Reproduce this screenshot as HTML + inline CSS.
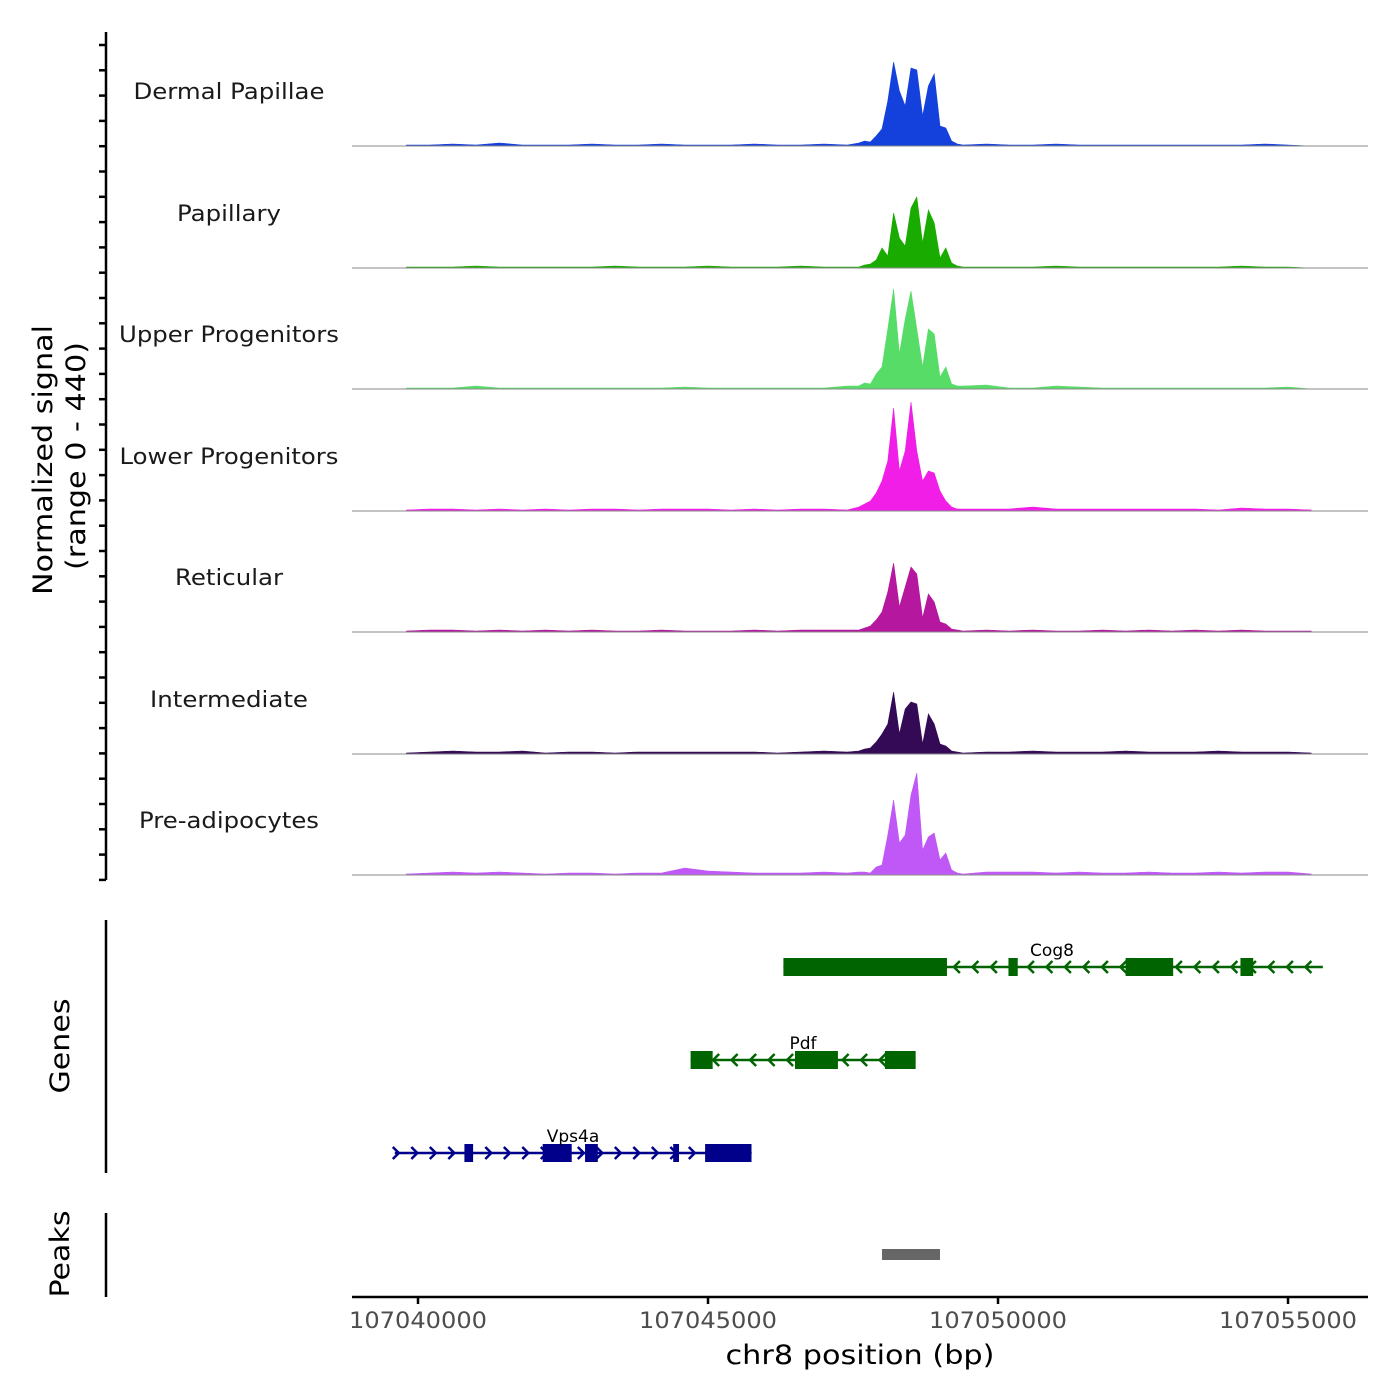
<!DOCTYPE html>
<html><head><meta charset="utf-8"><style>
body{margin:0;background:#fff}
svg{display:block;font-family:"DejaVu Sans","Liberation Sans",sans-serif}
</style></head><body>
<svg id="chart" width="1400" height="1400" viewBox="0 0 1400 1400" xmlns="http://www.w3.org/2000/svg">
<text transform="translate(52,460) rotate(-90)" text-anchor="middle" font-size="27" textLength="270" lengthAdjust="spacingAndGlyphs" fill="#000">Normalized signal</text>
<text transform="translate(85,456) rotate(-90)" text-anchor="middle" font-size="27" textLength="228" lengthAdjust="spacingAndGlyphs" fill="#000">(range 0 - 440)</text>
<line x1="106" y1="32" x2="106" y2="880" stroke="#000" stroke-width="2.5"/>
<g id="yticks"></g>
<g id="tracks"></g>
<text transform="translate(69,1046) rotate(-90)" text-anchor="middle" font-size="27" textLength="95" lengthAdjust="spacingAndGlyphs">Genes</text>
<line x1="106" y1="920" x2="106" y2="1173" stroke="#000" stroke-width="2.5"/>
<g id="genes"></g>
<text transform="translate(69,1254) rotate(-90)" text-anchor="middle" font-size="27" textLength="87" lengthAdjust="spacingAndGlyphs">Peaks</text>
<line x1="106" y1="1213" x2="106" y2="1297" stroke="#000" stroke-width="2.5"/>
<g id="peaks"></g>
<line x1="352" y1="1297" x2="1368" y2="1297" stroke="#000" stroke-width="2.5"/>
<g id="xticks"></g>
<text x="860" y="1364" text-anchor="middle" font-size="27" textLength="269" lengthAdjust="spacingAndGlyphs">chr8 position (bp)</text>
</svg>
<script>
const xTicks = [107040000, 107045000, 107050000, 107055000];
const trackNames = ["Dermal Papillae","Papillary","Upper Progenitors","Lower Progenitors","Reticular","Intermediate","Pre-adipocytes"];
const trackColors = ["#1440dc","#1aab00","#57dc67","#f01ee6","#b5179f","#340a56","#c058f8"];
const peakStart = 107047600, peakStep = 100;
const peakBlue  = [3,5,4,10,17,45,84,55,40,78,76,30,60,72,20,18,5,2,1];
const peakGreen = [1,3,4,8,20,12,55,30,22,60,71,25,58,45,10,20,5,2,1];
const peakUpper = [3,6,5,15,22,60,100,35,70,98,60,22,60,55,12,22,5,3,3];
const peakLower = [4,7,10,18,30,50,103,40,60,109,60,30,40,38,20,10,4,2,2];
const peakRetic = [2,4,6,12,20,40,69,25,45,65,58,14,38,30,10,8,3,2,1];
const peakInter = [3,5,6,12,20,30,62,20,45,52,50,10,40,30,10,8,3,2,1];
const peakPre   = [3,3,2,8,10,40,75,32,40,80,102,25,38,42,15,22,5,2,1];
const noiseStart = 107039800, noiseStep = 400;
const noiseBlue  = [1,1,2,1,3,1,1,1,2,1,1,2,1,1,1,2,1,1,2,1,3,2,1,2,1,2,1,1,2,1,1,1,1,1,1,1,1,2,1,0];
const noiseGreen = [1,1,1,2,1,1,1,1,1,2,1,1,1,2,1,1,1,2,1,1,2,1,1,1,2,1,1,1,2,1,1,1,1,1,1,1,2,1,1,0];
const noiseUpper = [1,1,1,3,1,1,1,1,1,1,1,1,2,1,1,1,1,1,1,3,1,2,1,1,1,4,1,1,3,2,1,1,1,1,1,1,1,1,2,0];
const noiseLower = [1,2,2,1,2,1,2,1,2,2,1,2,2,2,1,2,1,2,2,1,2,3,2,2,2,2,2,4,2,2,2,2,2,2,2,1,3,2,2,1];
const noiseRetic = [1,2,2,1,2,1,2,1,2,1,1,2,1,1,1,2,1,2,2,2,4,2,1,2,1,2,1,2,1,1,2,1,2,1,2,1,2,1,1,1];
const noiseInter = [1,2,3,2,2,3,1,2,2,1,2,2,2,2,2,2,1,2,3,2,3,3,2,2,1,2,2,3,2,2,2,3,2,2,2,3,2,2,2,1];
const noisePre   = [1,2,3,2,3,2,1,2,2,1,2,2,7,4,3,2,2,2,3,2,4,2,3,5,2,3,3,3,2,3,2,2,3,2,2,3,2,3,3,1];
const peakSeries = [peakBlue,peakGreen,peakUpper,peakLower,peakRetic,peakInter,peakPre];
const noiseSeries = [noiseBlue,noiseGreen,noiseUpper,noiseLower,noiseRetic,noiseInter,noisePre];
const peakRegions = [[107048000, 107049000]];
const geneNames = ["Cog8","Pdf","Vps4a"];
const geneStrands = [-1,-1,1];
const geneColors = ["#006400","#006400","#00008b"];
const geneSpans = [[107046300,107055600],[107044700,107048550],[107039600,107045750]];
const geneExons = [
 [[107046300,107049120],[107050180,107050340],[107052200,107053020],[107054180,107054400]],
 [[107044700,107045080],[107046500,107047240],[107048050,107048580]],
 [[107040800,107040950],[107042150,107042650],[107042880,107043100],[107044400,107044500],[107044950,107045750]]];
const geneRows = [967,1060,1153];

const NS="http://www.w3.org/2000/svg";
const X0=352,X1=1368,D0=107038862,D1=107056379;
function xs(p){return X0+(p-D0)/(D1-D0)*(X1-X0);}
const baselines=[146,268,389,511,632,754,875];
const yMax=121;
function ys(i,v){return baselines[i]-v/yMax*121;}
function mk(tag,attrs,parent){const e=document.createElementNS(NS,tag);for(const k in attrs)e.setAttribute(k,attrs[k]);parent.appendChild(e);return e;}

const yt=document.getElementById('yticks');
for(let y=45;y<=880;y+=25.3){const l=mk('line',{x1:99,x2:106,y1:y,y2:y,stroke:'#000','stroke-width':2.5},yt);

}

const labelLens=[191,104,220,219,108,158,180];
const tr=document.getElementById('tracks');
const pEnd=peakStart+peakStep*(peakBlue.length-1);
for(let i=0;i<7;i++){
  const g=mk('g',{},tr);
  
  
  const pts=[];
  noiseSeries[i].forEach((v,k)=>{const p=noiseStart+k*noiseStep;if(p<peakStart)pts.push([p,v]);});
  peakSeries[i].forEach((v,k)=>pts.push([peakStart+k*peakStep,v]));
  noiseSeries[i].forEach((v,k)=>{const p=noiseStart+k*noiseStep;if(p>pEnd)pts.push([p,v]);});
  let d='M'+xs(pts[0][0])+','+baselines[i];
  pts.forEach(q=>d+=' L'+xs(q[0]).toFixed(1)+','+ys(i,q[1]).toFixed(1));
  d+=' L'+xs(pts[pts.length-1][0])+','+baselines[i]+'Z';
  const a=mk('path',{d:d,fill:trackColors[i],stroke:trackColors[i],'stroke-width':0.6},g);
  
  
  const b=mk('line',{x1:X0,x2:X1,y1:baselines[i],y2:baselines[i],stroke:'#8a8a8a','stroke-width':1},g);
  
  
  const t=mk('text',{x:229,y:baselines[i]-47,'text-anchor':'middle','font-size':22,fill:'#1a1a1a',textLength:labelLens[i],lengthAdjust:'spacingAndGlyphs'},g);
  t.textContent=trackNames[i];
  
  
}

const gg=document.getElementById('genes');
for(let i=0;i<3;i++){
  const g=mk('g',{},gg);
  
  
  const y=geneRows[i],c=geneColors[i],s=geneStrands[i];
  const xa=xs(geneSpans[i][0]),xb=xs(geneSpans[i][1]);
  mk('line',{x1:xa,x2:xb,y1:y,y2:y,stroke:c,'stroke-width':2.5},g);
  for(let x=xa+4;x<=xb;x+=18.5){
    const d=s<0?`M${x+6},${y-6} L${x},${y} L${x+6},${y+6}`:`M${x-6},${y-6} L${x},${y} L${x-6},${y+6}`;
    mk('path',{d:d,fill:'none',stroke:c,'stroke-width':2.5},g);
  }
  geneExons[i].forEach(e=>{const r=mk('rect',{x:xs(e[0]),y:y-9,width:xs(e[1])-xs(e[0]),height:18,fill:c},g);
    
    });
  const lx=[1052,803,573][i];
  const t=mk('text',{x:lx,y:y-11,'text-anchor':'middle','font-size':17,fill:'#000'},g);
  t.textContent=geneNames[i];
  
  
}

const pk=document.getElementById('peaks');
peakRegions.forEach(r=>{const e=mk('rect',{x:xs(r[0]),y:1249,width:xs(r[1])-xs(r[0]),height:11,fill:'#666'},pk);
  
  });

const xt=document.getElementById('xticks');
xTicks.forEach(v=>{const x=xs(v);
  const l=mk('line',{x1:x,x2:x,y1:1297,y2:1304,stroke:'#000','stroke-width':2.5},xt);
  
  
  const t=mk('text',{x:x,y:1328,'text-anchor':'middle','font-size':22,fill:'#4d4d4d',textLength:138,lengthAdjust:'spacingAndGlyphs'},xt);
  t.textContent=v;
  
  });
</script>
</body></html>
